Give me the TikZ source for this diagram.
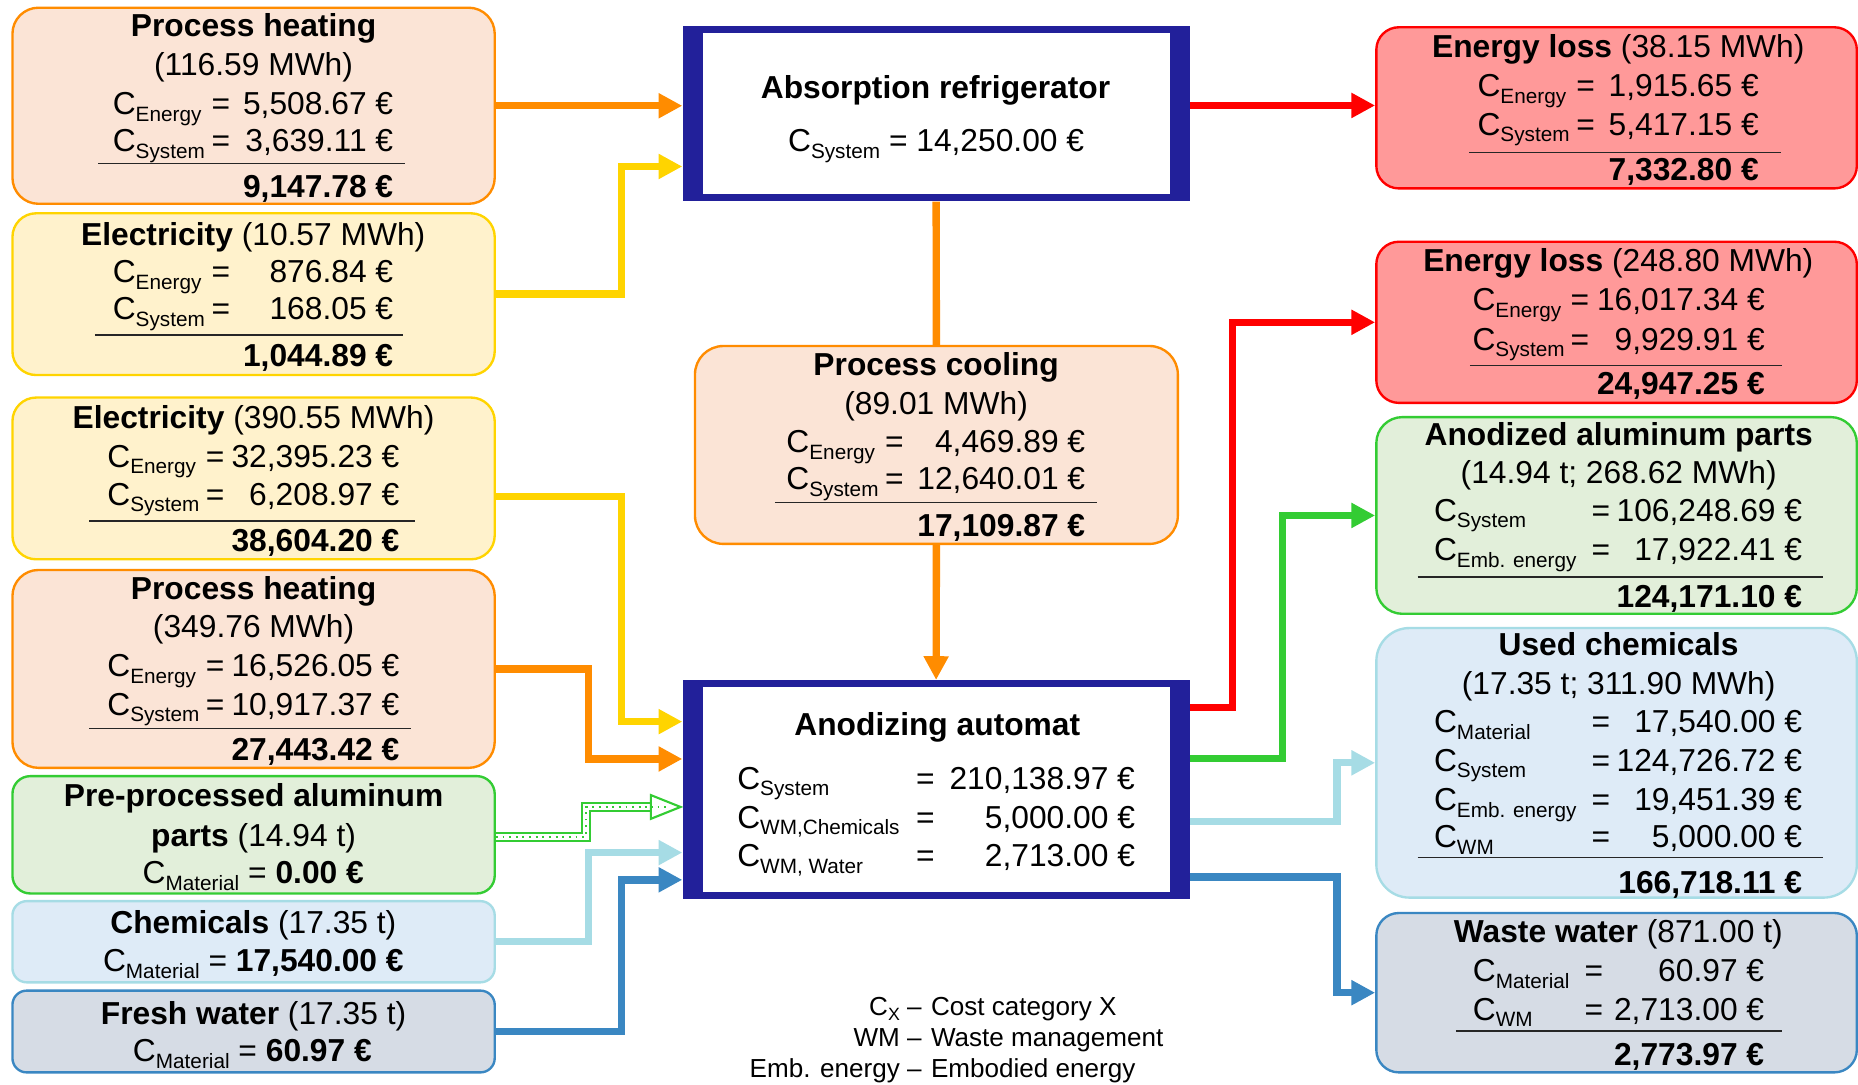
\documentclass[tikz,border=0pt]{standalone}
\usepackage{fontspec}
\setmainfont{Liberation Sans}
\usetikzlibrary{arrows.meta,calc}

\definecolor{navyb}{HTML}{22209A}
\definecolor{orng}{HTML}{FF8C00}
\definecolor{peach}{HTML}{FBE4D6}
\definecolor{gold}{HTML}{FFD400}
\definecolor{cream}{HTML}{FFF2CC}
\definecolor{grn}{HTML}{33CC33}
\definecolor{mint}{HTML}{E2EFDA}
\definecolor{cyanl}{HTML}{A6DCE5}
\definecolor{skyb}{HTML}{DEEBF7}
\definecolor{steel}{HTML}{3A87C2}
\definecolor{slate}{HTML}{D6DCE5}
\definecolor{redl}{HTML}{FF0000}
\definecolor{salmon}{HTML}{FF9999}

% subscripts of the cost symbols
\newcommand\csub[1]{\raisebox{-5.5pt}{\fontsize{17.5}{20}\selectfont #1}}
\newcommand\lgsub[1]{\raisebox{-4.5pt}{\fontsize{15}{18}\selectfont #1}}

% rounded panel: name, style, x1, y1, x2, y2, corner radius
\newcommand\panelbox[7]{%
  \node[#2, rounded corners=#7pt, minimum width={#5-#3}, minimum height={#6-#4}]
    (#1) at ({(#3+#5)/2},{(#4+#6)/2}) {};}
% centred text line: name, x, baseline y, text
\newcommand\lrow[4]{\node[txt, anchor=base] (#1) at (#2,#3) {#4};}
% cost line: name, baseline y, x of C, subscript, x of =, right x of value, value
\newcommand\costrow[7]{%
  \node[txt, anchor=base west] (#1c) at (#3,#2) {C\csub{#4}};
  \node[txt, anchor=base] (#1e) at (#5,#2) {=};
  \node[txt, anchor=base east] (#1v) at (#6,#2) {#7};}
% sum rule and total: name, x1, x2, y of rule, position of total, total
\newcommand\sumrow[6]{%
  \draw[sumline] (#2,#4) -- (#3,#4);
  \node[txt, anchor=base east] (#1) at (#5) {\textbf{#6}};}

\begin{document}
\begin{tikzpicture}[x=1pt, y=-1pt,
  panel/.style={draw, line width=2pt, inner sep=0pt},
  heat/.style={panel, draw=orng, fill=peach},
  elec/.style={panel, draw=gold, fill=cream},
  alu/.style={panel, draw=grn, fill=mint},
  chem/.style={panel, draw=cyanl, fill=skyb},
  water/.style={panel, draw=steel, fill=slate},
  loss/.style={panel, draw=redl, fill=salmon},
  unitframe/.style={fill=navyb, inner sep=0pt, minimum width=428},
  unitinner/.style={fill=white, inner sep=0pt, minimum width=394},
  txt/.style={inner sep=0pt, font=\fontsize{26.8}{32}\selectfont},
  lgd/.style={inner sep=0pt, font=\fontsize{22}{26}\selectfont},
  sumline/.style={line width=1.3pt, black!85},
  flow/.style={line width=6.2pt, -{Triangle[length=20pt,width=20pt]}},
  link/.style={line width=6.2pt}]

\useasboundingbox (0,0) rectangle (1568,915);
\fill[white] (0,0) rectangle (1568,915);

% ---------- input panels ----------
\panelbox{ph1}{heat}{10.5}{6.5}{417.5}{172}{22}
\panelbox{el1}{elec}{10.5}{180}{417.5}{316.5}{20}
\panelbox{el2}{elec}{10.5}{335.5}{417.5}{472}{20}
\panelbox{ph2}{heat}{10.5}{481}{417.5}{648}{22}
\panelbox{pre}{alu}{10.5}{655}{417.5}{754}{15}
\panelbox{chm}{chem}{10.5}{760.5}{417.5}{829}{12}
\panelbox{fw}{water}{10.5}{836}{417.5}{905}{12}

% ---------- middle ----------
\node[unitframe, minimum height=148] (absr) at (790,96) {};
\node[unitinner, minimum height=136] (absrin) at (790,95.7) {};
\panelbox{pc}{heat}{586.5}{292}{994}{459}{24}
\node[unitframe, minimum height=185] (anod) at (790,666.5) {};
\node[unitinner, minimum height=173] (anodin) at (790,666.5) {};

% ---------- output panels ----------
\panelbox{r1}{loss}{1161.5}{23}{1567}{159}{19}
\panelbox{r2}{loss}{1161.5}{204}{1567}{340}{19}
\panelbox{r3}{alu}{1161.5}{352}{1567}{518}{22}
\panelbox{r4}{chem}{1161.5}{530}{1567}{757.5}{28}
\panelbox{r5}{water}{1161.5}{770.5}{1567}{905}{19}

% ---------- texts: inputs ----------
\lrow{ph1t}{214}{30.4}{\textbf{Process heating}}
\lrow{ph1m}{214}{63.3}{(116.59 MWh)}
\costrow{ph1e}{97}{95}{Energy}{186.5}{332}{5,508.67 €}
\costrow{ph1s}{128}{95}{System}{186.5}{332}{3,639.11 €}
\sumrow{ph1sum}{83}{342}{138}{332,167}{9,147.78 €}

\lrow{el1t}{213.7}{206.8}{\textbf{Electricity} (10.57 MWh)}
\costrow{el1e}{238.6}{95}{Energy}{186.5}{332}{876.84 €}
\costrow{el1s}{270}{95}{System}{186.5}{332}{168.05 €}
\sumrow{el1sum}{80}{340}{282.7}{332,309.4}{1,044.89 €}

\lrow{el2t}{214}{361.5}{\textbf{Electricity} (390.55 MWh)}
\costrow{el2e}{394.4}{90.4}{Energy}{181.6}{337.2}{32,395.23 €}
\costrow{el2s}{426.2}{90.4}{System}{181.6}{337.2}{6,208.97 €}
\sumrow{el2sum}{75.4}{350.3}{439.7}{337.2,465}{38,604.20 €}

\lrow{ph2t}{214}{505.8}{\textbf{Process heating}}
\lrow{ph2m}{214}{537.8}{(349.76 MWh)}
\costrow{ph2e}{571}{90.4}{Energy}{181.6}{337.2}{16,526.05 €}
\costrow{ph2s}{603.4}{90.4}{System}{181.6}{337.2}{10,917.37 €}
\sumrow{ph2sum}{75.4}{346.6}{614.6}{337.2,642}{27,443.42 €}

\lrow{pret}{214}{680.8}{\textbf{Pre-processed aluminum}}
\lrow{prem}{214}{714}{\textbf{parts} (14.94 t)}
\lrow{prec}{213.7}{746}{C\csub{Material} = \textbf{0.00 €}}

\lrow{chmt}{213.8}{787.6}{\textbf{Chemicals} (17.35 t)}
\lrow{chmc}{213.8}{820}{C\csub{Material} = \textbf{17,540.00 €}}

\lrow{fwt}{214}{865}{\textbf{Fresh water} (17.35 t)}
\lrow{fwc}{213}{896}{C\csub{Material} = \textbf{60.97 €}}

% ---------- texts: middle ----------
\lrow{absrt}{789.5}{83}{\textbf{Absorption refrigerator}}
\lrow{absrc}{790}{128}{C\csub{System} = 14,250.00 €}

\lrow{pct}{790}{317}{\textbf{Process cooling}}
\lrow{pcm}{790}{349.6}{(89.01 MWh)}
\costrow{pce}{382.2}{663.5}{Energy}{754.7}{916}{4,469.89 €}
\costrow{pcs}{413.5}{663.5}{System}{754.7}{916}{12,640.01 €}
\sumrow{pcsum}{654}{926}{424}{916,453}{17,109.87 €}

\lrow{anodt}{791}{621}{\textbf{Anodizing automat}}
\costrow{an1}{666}{622}{System}{781}{958}{210,138.97 €}
\costrow{an2}{699}{622}{WM,Chemicals}{781}{958}{5,000.00 €}
\costrow{an3}{731.4}{622}{WM, Water}{781}{958}{2,713.00 €}

% ---------- texts: outputs ----------
\lrow{r1t}{1365.7}{48.4}{\textbf{Energy loss} (38.15 MWh)}
\costrow{r1e}{81.6}{1246.7}{Energy}{1338.2}{1484.4}{1,915.65 €}
\costrow{r1s}{114}{1246.7}{System}{1338.2}{1484.4}{5,417.15 €}
\sumrow{r1sum}{1239.7}{1503}{128.8}{1484.4,152.7}{7,332.80 €}

\lrow{r2t}{1365.7}{229.3}{\textbf{Energy loss} (248.80 MWh)}
\costrow{r2e}{262.2}{1242.5}{Energy}{1333.3}{1489.5}{16,017.34 €}
\costrow{r2s}{295.4}{1242.5}{System}{1333.3}{1489.5}{9,929.91 €}
\sumrow{r2sum}{1240.5}{1503.6}{308.6}{1489.5,333.3}{24,947.25 €}

\lrow{r3t}{1366}{376.3}{\textbf{Anodized aluminum parts}}
\lrow{r3m}{1366}{408.3}{(14.94 t; 268.62 MWh)}
\costrow{r3s}{440}{1210}{System}{1351}{1521}{106,248.69 €}
\costrow{r3b}{473.2}{1210}{Emb. energy}{1351}{1521}{17,922.41 €}
\sumrow{r3sum}{1196.4}{1538.7}{486.8}{1521,512.6}{124,171.10 €}

\lrow{r4t}{1366}{553.2}{\textbf{Used chemicals}}
\lrow{r4m}{1366}{586.3}{(17.35 t; 311.90 MWh)}
\costrow{r4a}{618.4}{1210}{Material}{1351}{1521}{17,540.00 €}
\costrow{r4s}{650.8}{1210}{System}{1351}{1521}{124,726.72 €}
\costrow{r4b}{684}{1210}{Emb. energy}{1351}{1521}{19,451.39 €}
\costrow{r4w}{715.3}{1210}{WM}{1351}{1521}{5,000.00 €}
\sumrow{r4sum}{1196.4}{1538.7}{723.7}{1521,754}{166,718.11 €}

\lrow{r5t}{1365.7}{795.6}{\textbf{Waste water} (871.00 t)}
\costrow{r5a}{828.4}{1242.8}{Material}{1345}{1489}{60.97 €}
\costrow{r5w}{860.8}{1242.8}{WM}{1345}{1489}{2,713.00 €}
\sumrow{r5sum}{1228.7}{1503.5}{870}{1489,899.6}{2,773.97 €}

% ---------- legend ----------
\node[lgd, anchor=base east] (lg1a) at (778,856.6) {C\lgsub{X} –};
\node[lgd, anchor=base west] (lg1b) at (785.5,856.6) {Cost category X};
\node[lgd, anchor=base east] (lg2a) at (778,883.3) {WM –};
\node[lgd, anchor=base west] (lg2b) at (785.5,883.3) {Waste management};
\node[lgd, anchor=base east] (lg3a) at (778,909) {Emb. energy –};
\node[lgd, anchor=base west] (lg3b) at (785.5,909) {Embodied energy};

% ---------- flows into the units ----------
\draw[flow, orng] (ph1.east) -- (ph1.east -| absr.west);
\draw[flow, gold] (el1.east) -- ++(106,0) |- ($(absr.west)+(0,44.5)$);
\draw[flow, gold] ($(el2.east)+(0,15)$) -- ++(106,0) |- ($(anod.west)+(0,-57.5)$);
\draw[flow, orng] (ph2.east) -- ++(78,0) |- ($(anod.west)+(0,-26)$);
\draw[flow, cyanl] (chm.east) -- ++(78,0) |- ($(anod.west)+(0,53)$);
\draw[flow, steel] (fw.east) -- ++(106,0) |- ($(anod.west)+(0,76)$);

% material flow of the aluminium parts: hollow dotted arrow
\coordinate (preTip) at ($(anod.west)+(-1.5,14.5)$);
\coordinate (preBase) at ($(preTip)+(-25,0)$);
\draw[grn, line width=8.5pt] ($(pre.east)+(0,1.5)$) -- ++(76,0) |- (preBase);
\draw[white, line width=5pt] ($(pre.east)+(0,1.5)$) -- ++(76,0) |- (preBase);
\draw[grn, line width=1.8pt, dash pattern=on 1.6pt off 4pt] ($(pre.east)+(0,1.5)$) -- ++(76,0) |- (preBase);
\filldraw[draw=grn, fill=white, line width=1.8pt] (preTip) -- ($(preBase)+(0,-10)$) -- ($(preBase)+(0,10)$) -- cycle;
\draw[grn, line width=1.8pt, dash pattern=on 1.6pt off 4pt] (preBase) -- ($(preBase)+(14,0)$);

% ---------- cooling loop ----------
\draw[link, orng] (absr.south) -- (pc.north);
\draw[flow, orng] (pc.south) -- (anod.north);

% ---------- flows out of the units ----------
\draw[flow, redl] ($(absr.east)+(0,-7)$) -- ($(absr.east -| r1.west)+(0,-7)$);
\draw[flow, redl] ($(anod.east)+(0,-69.5)$) -- ++(36,0) |- (r2.west);
\draw[flow, grn] ($(anod.east)+(0,-26.5)$) -- ++(78,0) |- (r3.west);
\draw[flow, cyanl] ($(anod.east)+(0,26.5)$) -- ++(124,0) |- (r4.west);
\draw[flow, steel] ($(anod.east)+(0,73.5)$) -- ++(124,0) |- (r5.west);

\end{tikzpicture}
\end{document}
